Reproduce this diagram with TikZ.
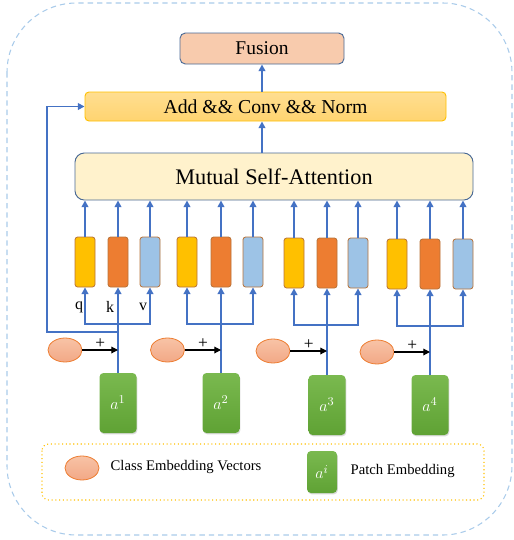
\documentclass[tikz,border=0pt]{standalone}
\usepackage{fontspec}
\setmainfont{Liberation Serif}
\usetikzlibrary{arrows.meta,shadows,shapes.geometric}

\definecolor{linkblue}{HTML}{4472C4}
\definecolor{boxedge}{HTML}{4A6A96}
\definecolor{barbrown}{HTML}{B8733A}
\definecolor{qyellow}{HTML}{FFC000}
\definecolor{korange}{HTML}{ED7D31}
\definecolor{vblue}{HTML}{9DC3E6}
\definecolor{fusionfill}{HTML}{F8CBAD}
\definecolor{addtop}{HTML}{FFDE91}
\definecolor{addbot}{HTML}{FFD470}
\definecolor{msafill}{HTML}{FFF2CC}
\definecolor{clstop}{HTML}{F8C3A6}
\definecolor{clsbot}{HTML}{F2A886}
\definecolor{clsedge}{HTML}{ED7D31}
\definecolor{patchtop}{HTML}{7AB94F}
\definecolor{patchbot}{HTML}{5FA234}
\definecolor{outerdash}{HTML}{A9CBEA}

\tikzset{
  link/.style={draw=linkblue,line width=1.4pt,-{Triangle[length=5pt,width=5pt]}},
  plus/.style={draw=black,line width=0.9pt,-{Triangle[length=5pt,width=5pt]}},
  qbar/.style={rectangle,rounded corners=2pt,draw=barbrown,line width=0.6pt,fill=#1,minimum width=15pt,minimum height=37.5pt,inner sep=0pt},
  classvec/.style={ellipse,draw=clsedge,line width=0.6pt,top color=clstop,bottom color=clsbot,minimum width=25.5pt,minimum height=18pt,inner sep=0pt},
  patch/.style={rectangle,rounded corners=3pt,top color=patchtop,bottom color=patchbot,minimum width=27.75pt,minimum height=45pt,inner sep=0pt,text=white,font=\fontsize{13}{15}\selectfont,drop shadow={opacity=0.3,shadow xshift=0.6pt,shadow yshift=-1pt}},
  lbl/.style={font=\fontsize{12}{14}\selectfont},
  plbl/.style={above=-2.5pt,font=\fontsize{13}{15}\selectfont}
}

\begin{document}
\begin{tikzpicture}[x=0.75pt,y=-0.75pt]
        \useasboundingbox (0,0) rectangle (514,540);
        \draw[draw=outerdash,dash pattern=on 4pt off 3pt,line width=0.8pt,rounded corners=52pt] (7,3) rectangle (512,535);
        \draw[draw=qyellow,dotted,line width=0.8pt,rounded corners=5pt] (42,444) rectangle (484,500);

        \node[rectangle,rounded corners=4pt,draw=boxedge,line width=0.7pt,fill=fusionfill,minimum width=123pt,minimum height=23.25pt,font=\fontsize{14.6}{17}\selectfont] (fusion) at (262,48.5) {Fusion};
        \node[rectangle,rounded corners=3pt,draw=qyellow,line width=0.7pt,top color=addtop,bottom color=addbot,minimum width=270.75pt,minimum height=21.75pt,font=\fontsize{14.8}{17}\selectfont] (add) at (265.5,106.5) {Add \&\& Conv \&\& Norm};
        \node[rectangle,rounded corners=7pt,draw=boxedge,line width=0.7pt,fill=msafill,minimum width=298.5pt,minimum height=35.25pt,font=\fontsize{16.7}{19}\selectfont] (msa) at (274,176.5) {Mutual Self-Attention};

        \node[qbar=qyellow] (q1) at (85,262) {};
        \node[qbar=korange] (k1) at (118,262) {};
        \node[qbar=vblue] (v1) at (150,262) {};
        \node[qbar=qyellow] (q2) at (187,262) {};
        \node[qbar=korange] (k2) at (221,262) {};
        \node[qbar=vblue] (v2) at (253,262) {};
        \node[qbar=qyellow] (q3) at (294,263) {};
        \node[qbar=korange] (k3) at (327,263) {};
        \node[qbar=vblue] (v3) at (358,263) {};
        \node[qbar=qyellow] (q4) at (397,264) {};
        \node[qbar=korange] (k4) at (430,264) {};
        \node[qbar=vblue] (v4) at (463,264) {};

        \node[lbl] (lq) at (79,307) {q};
        \node[lbl] (lk) at (110,307) {k};
        \node[lbl] (lv) at (143,307) {v};

        \coordinate (j1) at (118,324);
        \coordinate (j2) at (221,324);
        \coordinate (j3) at (327,325);
        \coordinate (j4) at (430,326);
        \coordinate (s1) at (118,332);
        \coordinate (s0) at (47,332);

        \node[classvec] (e1) at (65,350) {};
        \node[classvec] (e2) at (167.5,350) {};
        \node[classvec] (e3) at (273,351) {};
        \node[classvec] (e4) at (377,352) {};

        \node[patch] (a1) at (118,403) {$a^{1}$};
        \node[patch] (a2) at (221,403) {$a^{2}$};
        \node[patch] (a3) at (327,405) {$a^{3}$};
        \node[patch] (a4) at (430,405) {$a^{4}$};

        \node[classvec] (le) at (82,468) {};
        \node[anchor=west,font=\fontsize{11}{13}\selectfont] (lt) at (106,467) {Class Embedding Vectors};
        \node[patch,minimum width=22.5pt,minimum height=31.5pt] (lp) at (322,472) {$a^{i}$};
        \node[anchor=west,font=\fontsize{11}{13}\selectfont] (lpt) at (346,471) {Patch Embedding};

        \draw[link] (add.north -| fusion.south) -- (fusion.south);
        \draw[link] (msa.north -| fusion.south) -- (add.south -| fusion.south);
        \draw[link] (s1) -- (s0) |- (add.west);

        \draw[link] (q1.north) -- (q1.north |- msa.south);
        \draw[link] (k1.north) -- (k1.north |- msa.south);
        \draw[link] (v1.north) -- (v1.north |- msa.south);
        \draw[link] (q2.north) -- (q2.north |- msa.south);
        \draw[link] (k2.north) -- (k2.north |- msa.south);
        \draw[link] (v2.north) -- (v2.north |- msa.south);
        \draw[link] (q3.north) -- (q3.north |- msa.south);
        \draw[link] (k3.north) -- (k3.north |- msa.south);
        \draw[link] (v3.north) -- (v3.north |- msa.south);
        \draw[link] (q4.north) -- (q4.north |- msa.south);
        \draw[link] (k4.north) -- (k4.north |- msa.south);
        \draw[link] (v4.north) -- (v4.north |- msa.south);

        \draw[link] (a1.north) -- (k1.south);
        \draw[link] (a2.north) -- (k2.south);
        \draw[link] (a3.north) -- (k3.south);
        \draw[link] (a4.north) -- (k4.south);

        \draw[link] (j1) -| (q1.south);
        \draw[link] (j1) -| (v1.south);
        \draw[link] (j2) -| (q2.south);
        \draw[link] (j2) -| (v2.south);
        \draw[link] (j3) -| (q3.south);
        \draw[link] (j3) -| (v3.south);
        \draw[link] (j4) -| (q4.south);
        \draw[link] (j4) -| (v4.south);

        \draw[plus] (e1.east) -- node[plbl] (p1) {+} (e1.east -| k1.south);
        \draw[plus] (e2.east) -- node[plbl] (p2) {+} (e2.east -| k2.south);
        \draw[plus] (e3.east) -- node[plbl] (p3) {+} (e3.east -| k3.south);
        \draw[plus] (e4.east) -- node[plbl] (p4) {+} (e4.east -| k4.south);
\end{tikzpicture}
\end{document}
